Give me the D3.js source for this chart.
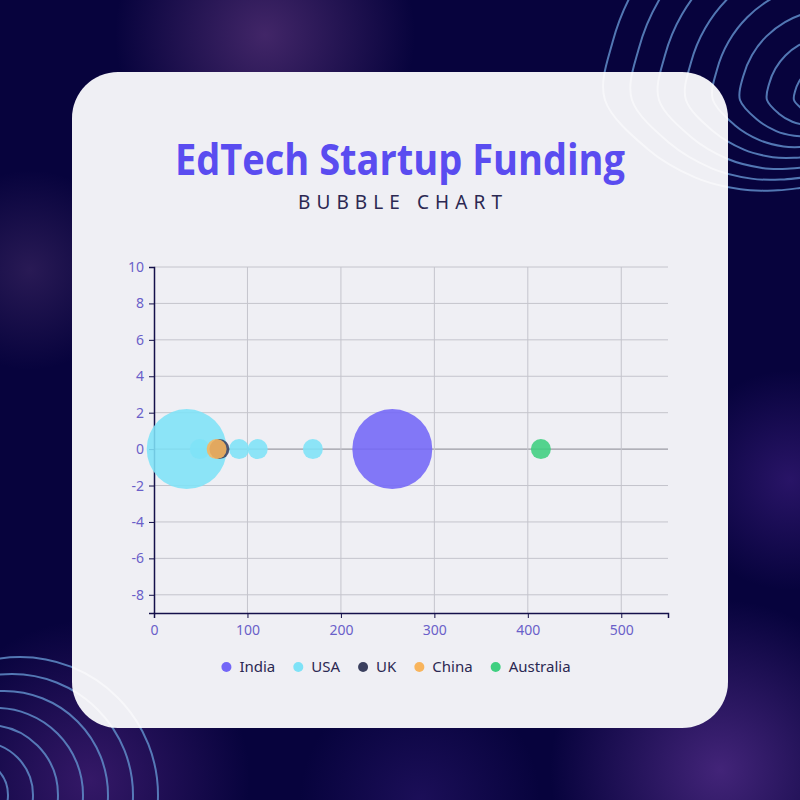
<!DOCTYPE html>
<html>
<head>
  <meta charset="utf-8">
  <script src="https://d3js.org/d3.v7.min.js"></script>
  <style>
    body { margin: 0; background: #07033d; }
    svg { display: block; }
    .tick text { font-family: "Noto Sans", sans-serif; font-size: 14px; fill: #6a5fc9; }
    .legend text { font-family: "Noto Sans", sans-serif; font-size: 15px; fill: #2b2852; }
  </style>
</head>
<body>
  <script>
    // Series and bubbles
    const countries = ["India", "USA", "UK", "China", "Australia"];
    const colors = ["#7366f7", "#7ee2f7", "#3a3f5e", "#f8b45c", "#3fcf80"];

    const bubbleCountry = ["India", "USA", "USA", "USA", "USA", "USA", "UK", "China", "Australia"];
    const bubbleX = [255, 35, 49, 91, 111, 170, 70, 67, 414];
    const bubbleY = [0, 0, 0, 0, 0, 0, 0, 0, 0];
    const bubbleSize = [16, 16, 1, 1, 1, 1, 1, 1, 1];

    const xTicks = [0, 100, 200, 300, 400, 500];
    const yTicks = [-8, -6, -4, -2, 0, 2, 4, 6, 8, 10];

    const width = 800, height = 800;
    const card = { x: 72, y: 72, w: 656, h: 656, r: 46 };
    const plot = { left: 154, right: 668, top: 267, bottom: 613 };

    const svg = d3.select("body")
      .append("svg")
      .attr("width", width)
      .attr("height", height);

    const defs = svg.append("defs");

    // soft glows in the background
    const glows = [
      { cx: 265, cy: 35, r: 150, c: "#9a5aa8", o: 0.4 },
      { cx: 30, cy: 270, r: 100, c: "#a06aa8", o: 0.22 },
      { cx: 720, cy: 770, r: 170, c: "#6a3aa0", o: 0.6 },
      { cx: 90, cy: 780, r: 160, c: "#5a2a8a", o: 0.55 },
      { cx: 790, cy: 480, r: 110, c: "#4a2590", o: 0.5 },
      { cx: 420, cy: 800, r: 120, c: "#3a2080", o: 0.4 }
    ];
    glows.forEach((g, i) => {
      const rg = defs.append("radialGradient").attr("id", "glow" + i);
      rg.append("stop").attr("offset", "0%").attr("stop-color", g.c).attr("stop-opacity", g.o);
      rg.append("stop").attr("offset", "100%").attr("stop-color", g.c).attr("stop-opacity", 0);
    });

    svg.append("rect")
      .attr("width", width)
      .attr("height", height)
      .attr("fill", "#07033d");

    svg.append("g")
      .selectAll("circle")
      .data(glows)
      .join("circle")
      .attr("cx", d => d.cx)
      .attr("cy", d => d.cy)
      .attr("r", d => d.r)
      .attr("fill", (d, i) => `url(#glow${i})`);

    // decorative contour rings
    const ringLine = d3.lineRadial()
      .angle(d => d[0])
      .radius(d => d[1])
      .curve(d3.curveCardinalClosed);

    function squash(a) {
      // a measured clockwise from top; shrink the lower half
      const down = Math.max(0, Math.cos(a - Math.PI));
      return 1 - 0.62 * down;
    }

    function drawDecor(g, stroke, opacity) {
      const tr = g.append("g").attr("transform", "translate(830,100)");
      d3.range(8).forEach(k => {
        const R = 225 - 27 * k;
        const pts = d3.range(24).map(i => {
          const a = i / 24 * 2 * Math.PI;
          return [a, R * squash(a)];
        });
        tr.append("path")
          .attr("d", ringLine(pts))
          .attr("fill", "none")
          .attr("stroke", stroke)
          .attr("stroke-opacity", opacity)
          .attr("stroke-width", 2);
      });
      const bl = g.append("g");
      d3.range(8).forEach(k => {
        bl.append("circle")
          .attr("cx", 20 - 8 * k)
          .attr("cy", 795)
          .attr("r", 138 - 17 * k)
          .attr("fill", "none")
          .attr("stroke", stroke)
          .attr("stroke-opacity", opacity)
          .attr("stroke-width", 2);
      });
    }

    drawDecor(svg.append("g"), "#5f8cc8", 0.85);

    // card
    svg.append("rect")
      .attr("x", card.x)
      .attr("y", card.y)
      .attr("width", card.w)
      .attr("height", card.h)
      .attr("rx", card.r)
      .attr("fill", "#efeff4");

    defs.append("clipPath").attr("id", "cardClip")
      .append("rect")
      .attr("x", card.x)
      .attr("y", card.y)
      .attr("width", card.w)
      .attr("height", card.h)
      .attr("rx", card.r);

    drawDecor(svg.append("g").attr("clip-path", "url(#cardClip)"), "#ffffff", 0.5);

    // titles
    svg.append("text")
      .attr("x", 400)
      .attr("y", 175)
      .attr("text-anchor", "middle")
      .attr("textLength", 450)
      .attr("lengthAdjust", "spacingAndGlyphs")
      .style("font-family", "'Open Sans', sans-serif")
      .style("font-weight", 700)
      .style("font-size", "43px")
      .attr("fill", "#5a4cf0")
      .text("EdTech Startup Funding");

    svg.append("text")
      .attr("x", 400)
      .attr("y", 209)
      .attr("text-anchor", "middle")
      .attr("textLength", 204)
      .attr("lengthAdjust", "spacing")
      .style("font-family", "'Noto Sans', sans-serif")
      .style("font-size", "19px")
      .attr("fill", "#2b2852")
      .text("BUBBLE CHART");

    // scales
    const x = d3.scaleLinear().domain([0, 550]).range([plot.left, plot.right]);
    const y = d3.scaleLinear().domain([-9, 10]).range([plot.bottom, plot.top]);
    const r = d3.scaleSqrt().domain([0, 16]).range([0, 40]);
    const color = d3.scaleOrdinal().domain(countries).range(colors);

    // gridlines
    const grid = svg.append("g");
    grid.selectAll(".hgrid")
      .data(yTicks)
      .join("line")
      .attr("x1", plot.left)
      .attr("x2", plot.right)
      .attr("y1", d => y(d))
      .attr("y2", d => y(d))
      .attr("stroke", d => d === 0 ? "#85858f" : "#c4c4cc")
      .attr("stroke-width", 1);
    grid.selectAll(".vgrid")
      .data(xTicks.filter(d => d > 0))
      .join("line")
      .attr("x1", d => x(d))
      .attr("x2", d => x(d))
      .attr("y1", plot.top)
      .attr("y2", plot.bottom)
      .attr("stroke", "#c4c4cc")
      .attr("stroke-width", 1);

    // axes
    const xAxis = svg.append("g")
      .attr("transform", `translate(0,${plot.bottom})`)
      .call(d3.axisBottom(x).tickValues(xTicks).tickSizeOuter(0).tickSize(5).tickPadding(7).tickFormat(d => String(d)));
    const yAxis = svg.append("g")
      .attr("transform", `translate(${plot.left},0)`)
      .call(d3.axisLeft(y).tickValues(yTicks).tickSizeOuter(0).tickSize(5).tickPadding(5).tickFormat(d => String(d)));
    [xAxis, yAxis].forEach(a => {
      a.select(".domain").attr("stroke", "#14104a").attr("stroke-width", 1.5);
      a.selectAll(".tick line").attr("stroke", "#14104a");
    });

    // bubbles, drawn series by series
    const bubbles = bubbleX.map((v, i) => ({
      country: bubbleCountry[i], x: v, y: bubbleY[i], size: bubbleSize[i]
    }));
    bubbles.sort((a, b) => countries.indexOf(a.country) - countries.indexOf(b.country));

    svg.append("g")
      .selectAll("circle")
      .data(bubbles)
      .join("circle")
      .attr("cx", d => x(d.x))
      .attr("cy", d => y(d.y))
      .attr("r", d => r(d.size))
      .attr("fill", d => color(d.country))
      .attr("fill-opacity", 0.88);

    // legend
    const legend = svg.append("g").attr("class", "legend");
    const items = legend.selectAll("g")
      .data(countries)
      .join("g");
    items.append("circle")
      .attr("r", 5)
      .attr("cx", 0)
      .attr("cy", 0)
      .attr("fill", d => color(d));
    items.append("text")
      .attr("x", 13)
      .attr("dy", "0.35em")
      .text(d => d);

    let pos = 0;
    const offsets = [];
    items.each(function () {
      const w = d3.select(this).select("text").node().getComputedTextLength();
      offsets.push(pos);
      pos += 13 + w + 23;
    });
    const total = pos - 23 + 5;
    const start = 396 - total / 2 + 5;
    items.attr("transform", (d, i) => `translate(${start + offsets[i]},667)`);
  </script>
</body>
</html>
